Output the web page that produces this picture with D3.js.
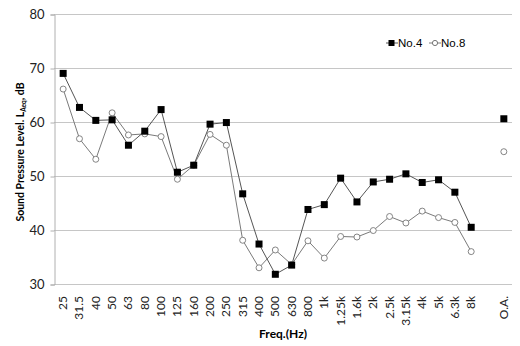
<!DOCTYPE html>
<html>
<head>
<meta charset="utf-8">
<script src="https://cdn.jsdelivr.net/npm/d3@7"></script>
<style>
  body { margin: 0; background: #fff; }
  svg { display: block; }
</style>
</head>
<body>
<svg id="chart" width="520" height="346"></svg>
<script>
// Third-octave band centres plus an empty slot before the overall value
const categories = ["25","31.5","40","50","63","80","100","125","160","200","250","315","400","500","630","800","1k","1.25k","1.6k","2k","2.5k","3.15k","4k","5k","6.3k","8k","","O.A."];
const no4 = [69.0,62.7,60.3,60.4,55.7,58.3,62.3,50.7,52.0,59.6,59.9,46.7,37.4,31.8,33.5,43.8,44.7,49.6,45.2,48.9,49.4,50.4,48.8,49.3,47.0,40.5,null,60.6];
const no8 = [66.1,56.9,53.1,61.7,57.6,57.8,57.3,49.4,52.0,57.7,55.7,38.1,33.0,36.3,33.6,38.0,34.8,38.8,38.7,39.9,42.5,41.3,43.5,42.3,41.4,36.0,null,54.5];
const yTicks = [30,40,50,60,70,80];
const seriesNames = ["No.4","No.8"];

const svg = d3.select("#chart");
const plotL = 54, plotR = 512, plotT = 14, plotB = 284;
const axisFont = "Lato, 'Open Sans', sans-serif";

const x = d3.scaleBand().domain(d3.range(categories.length)).range([plotL + 1, plotR]).padding(0);
const y = d3.scaleLinear().domain([30, 80]).range([plotB, plotT]);
const cx = i => x(i) + x.bandwidth() / 2;

// horizontal gridlines
svg.append("g").selectAll("line").data(yTicks).join("line")
  .attr("x1", plotL).attr("x2", plotR)
  .attr("y1", d => Math.round(y(d)) + 0.5).attr("y2", d => Math.round(y(d)) + 0.5)
  .attr("stroke", "#c6c6c6").attr("stroke-width", 1);

// value axis
const yAxis = svg.append("g").attr("transform", `translate(${plotL + 0.5},0.5)`)
  .call(d3.axisLeft(y).tickValues(yTicks).tickSize(4).tickPadding(6));
yAxis.select(".domain").attr("stroke", "#b0b0b0");
yAxis.selectAll(".tick line").attr("stroke", "#b0b0b0");
yAxis.selectAll("text").attr("font-family", axisFont).attr("font-size", 13).attr("fill", "#222");

// category labels, rotated
svg.append("g").selectAll("text").data(categories).join("text")
  .attr("transform", (d, i) => `translate(${cx(i) + 4},${plotB + 12}) rotate(-90)`)
  .attr("text-anchor", "end")
  .attr("font-family", axisFont).attr("font-size", 12).attr("fill", "#222")
  .text(d => d);

// axis titles
svg.append("text")
  .attr("x", (plotL + plotR) / 2).attr("y", 338)
  .attr("text-anchor", "middle")
  .attr("font-family", axisFont).attr("font-size", 12).attr("font-weight", "bold")
  .text("Freq.(Hz)");

const yt = svg.append("text")
  .attr("transform", `translate(24,152) rotate(-90)`)
  .attr("text-anchor", "middle")
  .attr("font-family", axisFont).attr("font-size", 10.5).attr("font-weight", "bold");
yt.append("tspan").text("Sound Pressure Level. L");
yt.append("tspan").attr("font-size", 6.5).attr("dy", 2).text("Aeq");
yt.append("tspan").attr("dy", -2).text(", dB");

// series lines (break at the empty slot)
const line = d3.line().defined(d => d != null).x((d, i) => cx(i)).y(d => y(d));
svg.append("path").datum(no8).attr("d", line)
  .attr("fill", "none").attr("stroke", "#7a7a7a").attr("stroke-width", 1);
svg.append("path").datum(no4).attr("d", line)
  .attr("fill", "none").attr("stroke", "#555").attr("stroke-width", 1);

// markers
const pts8 = no8.map((v, i) => ({v, i})).filter(d => d.v != null);
svg.append("g").selectAll("circle").data(pts8).join("circle")
  .attr("cx", d => cx(d.i)).attr("cy", d => y(d.v)).attr("r", 3)
  .attr("fill", "#fff").attr("stroke", "#777").attr("stroke-width", 0.9);
const pts4 = no4.map((v, i) => ({v, i})).filter(d => d.v != null);
svg.append("g").selectAll("rect").data(pts4).join("rect")
  .attr("x", d => cx(d.i) - 3.5).attr("y", d => y(d.v) - 3.5)
  .attr("width", 7).attr("height", 7).attr("fill", "#000");

// legend
const lg = svg.append("g").attr("font-family", "'Liberation Sans', Arial, sans-serif").attr("font-size", 11.5);
const lgY = 43;
lg.append("line").attr("x1", 386).attr("x2", 398).attr("y1", lgY).attr("y2", lgY).attr("stroke", "#555");
lg.append("rect").attr("x", 388.5).attr("y", lgY - 3).attr("width", 6).attr("height", 6).attr("fill", "#000");
lg.append("text").attr("x", 398).attr("y", lgY + 4).text(seriesNames[0]);
lg.append("line").attr("x1", 429).attr("x2", 441).attr("y1", lgY).attr("y2", lgY).attr("stroke", "#7a7a7a");
lg.append("circle").attr("cx", 435).attr("cy", lgY).attr("r", 2.6).attr("fill", "#fff").attr("stroke", "#777");
lg.append("text").attr("x", 441).attr("y", lgY + 4).text(seriesNames[1]);
</script>
</body>
</html>
